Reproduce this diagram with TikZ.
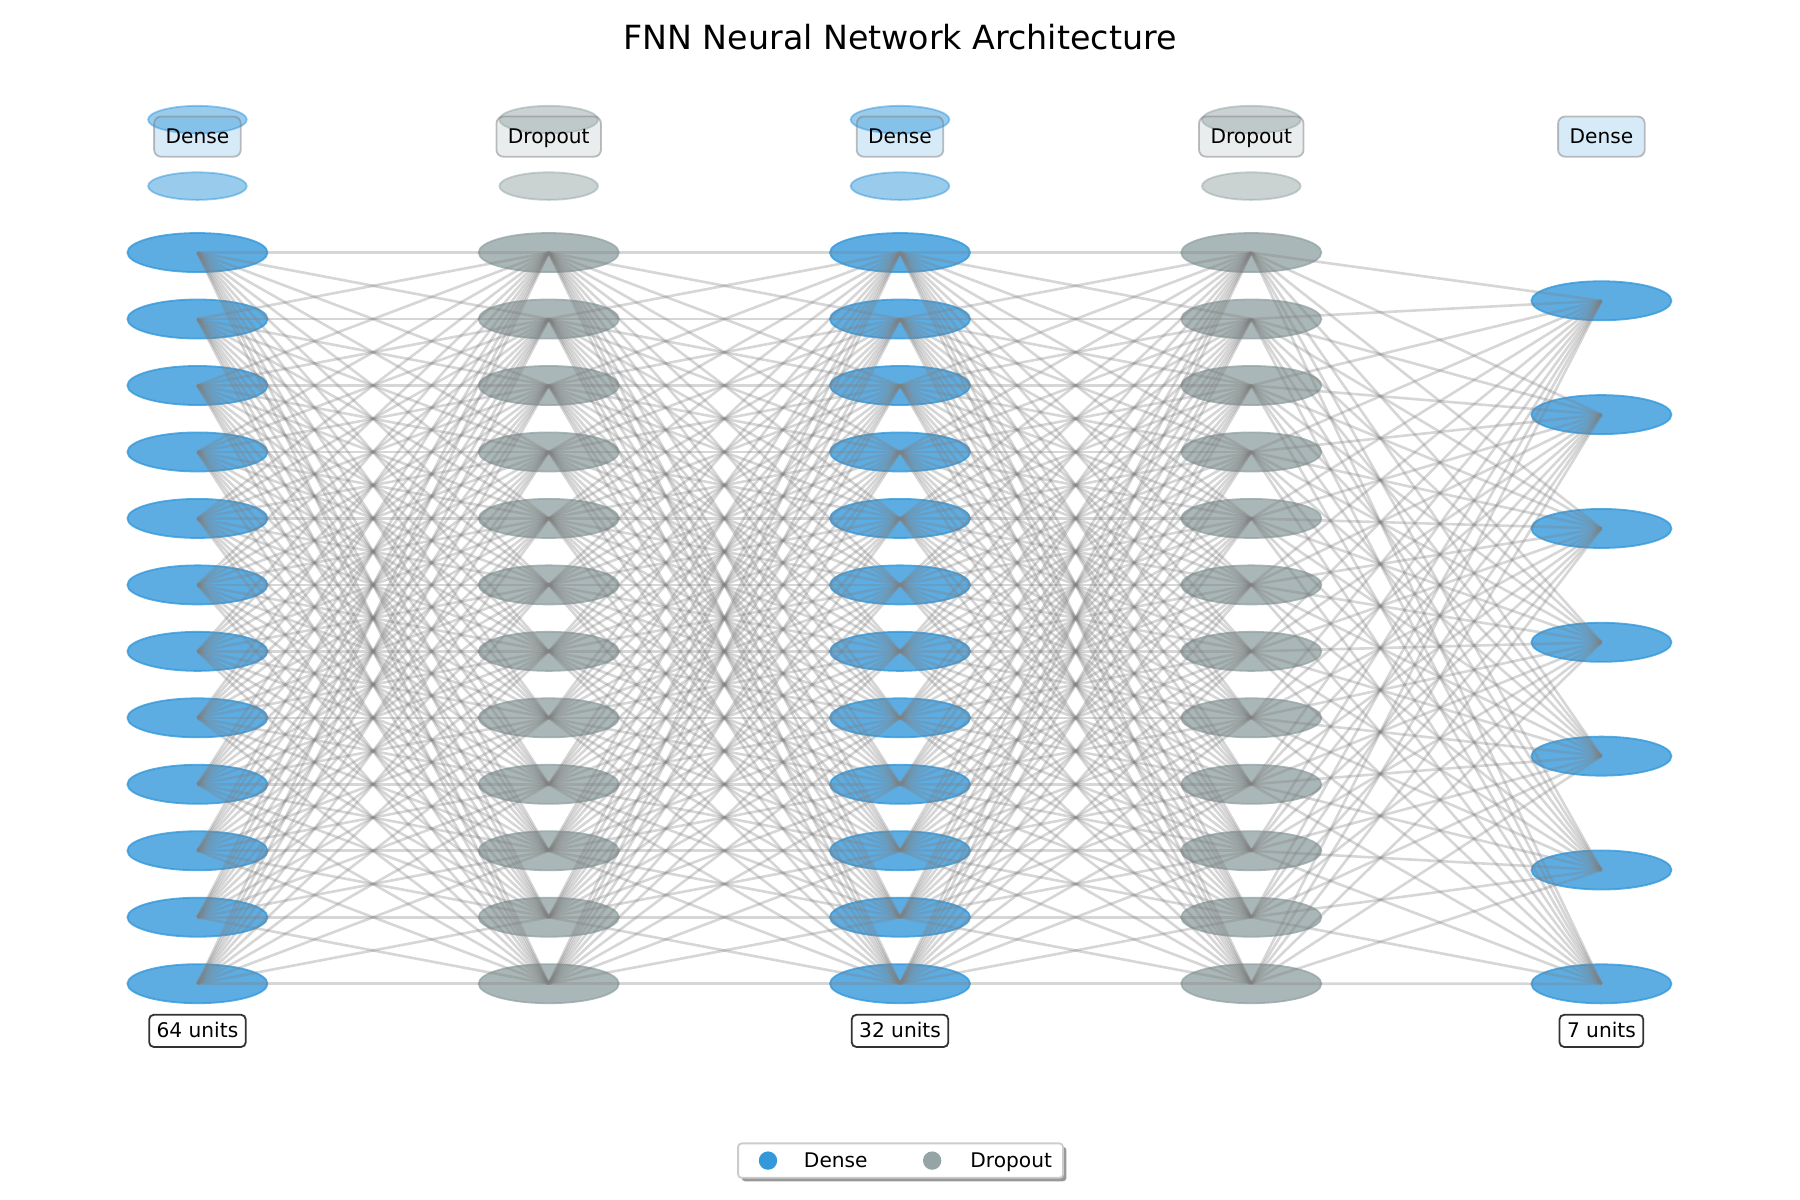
\documentclass[tikz,border=0pt]{standalone}
\usepackage{fontspec}
\setmainfont{DejaVu Sans}
\usetikzlibrary{shapes.geometric}
\definecolor{densec}{HTML}{3498DB}
\definecolor{dropc}{HTML}{95A5A6}
\definecolor{edgec}{HTML}{808080}
\tikzset{
  neuron/.style={ellipse, minimum width=2.44cm, minimum height=0.68cm, inner sep=0pt, line width=0.9pt, fill opacity=0.8, draw opacity=0.8},
  densenode/.style={neuron, fill=densec, draw=densec},
  dropnode/.style={neuron, fill=dropc, draw=dropc},
  ghost/.style={ellipse, minimum width=1.72cm, minimum height=0.48cm, inner sep=0pt, line width=0.9pt, fill opacity=0.5, draw opacity=0.5},
  densegh/.style={ghost, fill=densec, draw=densec},
  dropgh/.style={ghost, fill=dropc, draw=dropc},
  edge/.style={draw=edgec, opacity=0.32, line width=1.3pt},
  toplab/.style={rounded corners=0.12cm, draw=gray, draw opacity=0.5, fill opacity=0.2, text opacity=1, line width=0.9pt, minimum height=0.7cm, inner xsep=0.2cm, text height=1.55ex, text depth=0.35ex, font=\fontsize{10}{12}\selectfont},
  denselab/.style={toplab, fill=densec},
  droplab/.style={toplab, fill=dropc},
  unitlab/.style={rounded corners=0.08cm, draw=black!80, fill=white, line width=0.9pt, minimum height=0.56cm, inner xsep=0.13cm, inner ysep=0pt, text height=1.55ex, text depth=0.35ex, font=\fontsize{10}{12}\selectfont},
  legtext/.style={anchor=west, inner sep=0pt, text height=1.55ex, text depth=0.35ex, font=\fontsize{10}{12}\selectfont},
}
\begin{document}
\begin{tikzpicture}[x=0.02cm, y=-0.02cm]
\useasboundingbox (0,0) rectangle (1568,1045);
% title
\node[font=\fontsize{16.5}{20}\selectfont] (title) at (784,32) {FNN Neural Network Architecture};
% ghost neurons above layers 1-4
\foreach \x/\s [count=\k] in {172/densegh, 478/dropgh, 784/densegh, 1090/dropgh} {
  \node[\s] (G\k-a) at (\x,104.2) {};
  \node[\s] (G\k-b) at (\x,162.1) {};
}
% layer labels
\node[denselab] (T1) at (172,119) {Dense};
\node[droplab] (T2) at (478,119) {Dropout};
\node[denselab] (T3) at (784,119) {Dense};
\node[droplab] (T4) at (1090,119) {Dropout};
\node[denselab] (T5) at (1395,119) {Dense};
% neurons
\foreach \x/\s [count=\l] in {172/densenode, 478/dropnode, 784/densenode, 1090/dropnode} {
  \foreach \i in {1,...,12} {
    \node[\s] (L\l-\i) at (\x,{220+57.9*(\i-1)}) {};
  }
}
\foreach \i in {1,...,7} {
  \node[densenode] (L5-\i) at (1395,{262+99.17*(\i-1)}) {};
}
% connections
\foreach \l/\m in {1/2, 2/3, 3/4} {
  \foreach \i in {1,...,12} {
    \foreach \j in {1,...,12} {
      \draw[edge] (L\l-\i.center) -- (L\m-\j.center);
    }
  }
}
\foreach \i in {1,...,12} {
  \foreach \j in {1,...,7} {
    \draw[edge] (L4-\i.center) -- (L5-\j.center);
  }
}
% unit labels
\node[unitlab] (U1) at (172,898) {64 units};
\node[unitlab] (U3) at (784,898) {32 units};
\node[unitlab] (U5) at (1395,898) {7 units};
% legend
\fill[black!40, rounded corners=0.06cm] (646,999) rectangle (929,1029);
\draw[black!20, fill=white, line width=0.9pt, rounded corners=0.06cm] (643,996) rectangle (926,1026);
\node[circle, fill=densec, inner sep=0pt, minimum size=0.32cm] (LD) at (669,1011) {};
\node[legtext] (LDt) at (700,1011) {Dense};
\node[circle, fill=dropc, inner sep=0pt, minimum size=0.32cm] (LR) at (812,1011) {};
\node[legtext] (LRt) at (845,1011) {Dropout};
\end{tikzpicture}
\end{document}
